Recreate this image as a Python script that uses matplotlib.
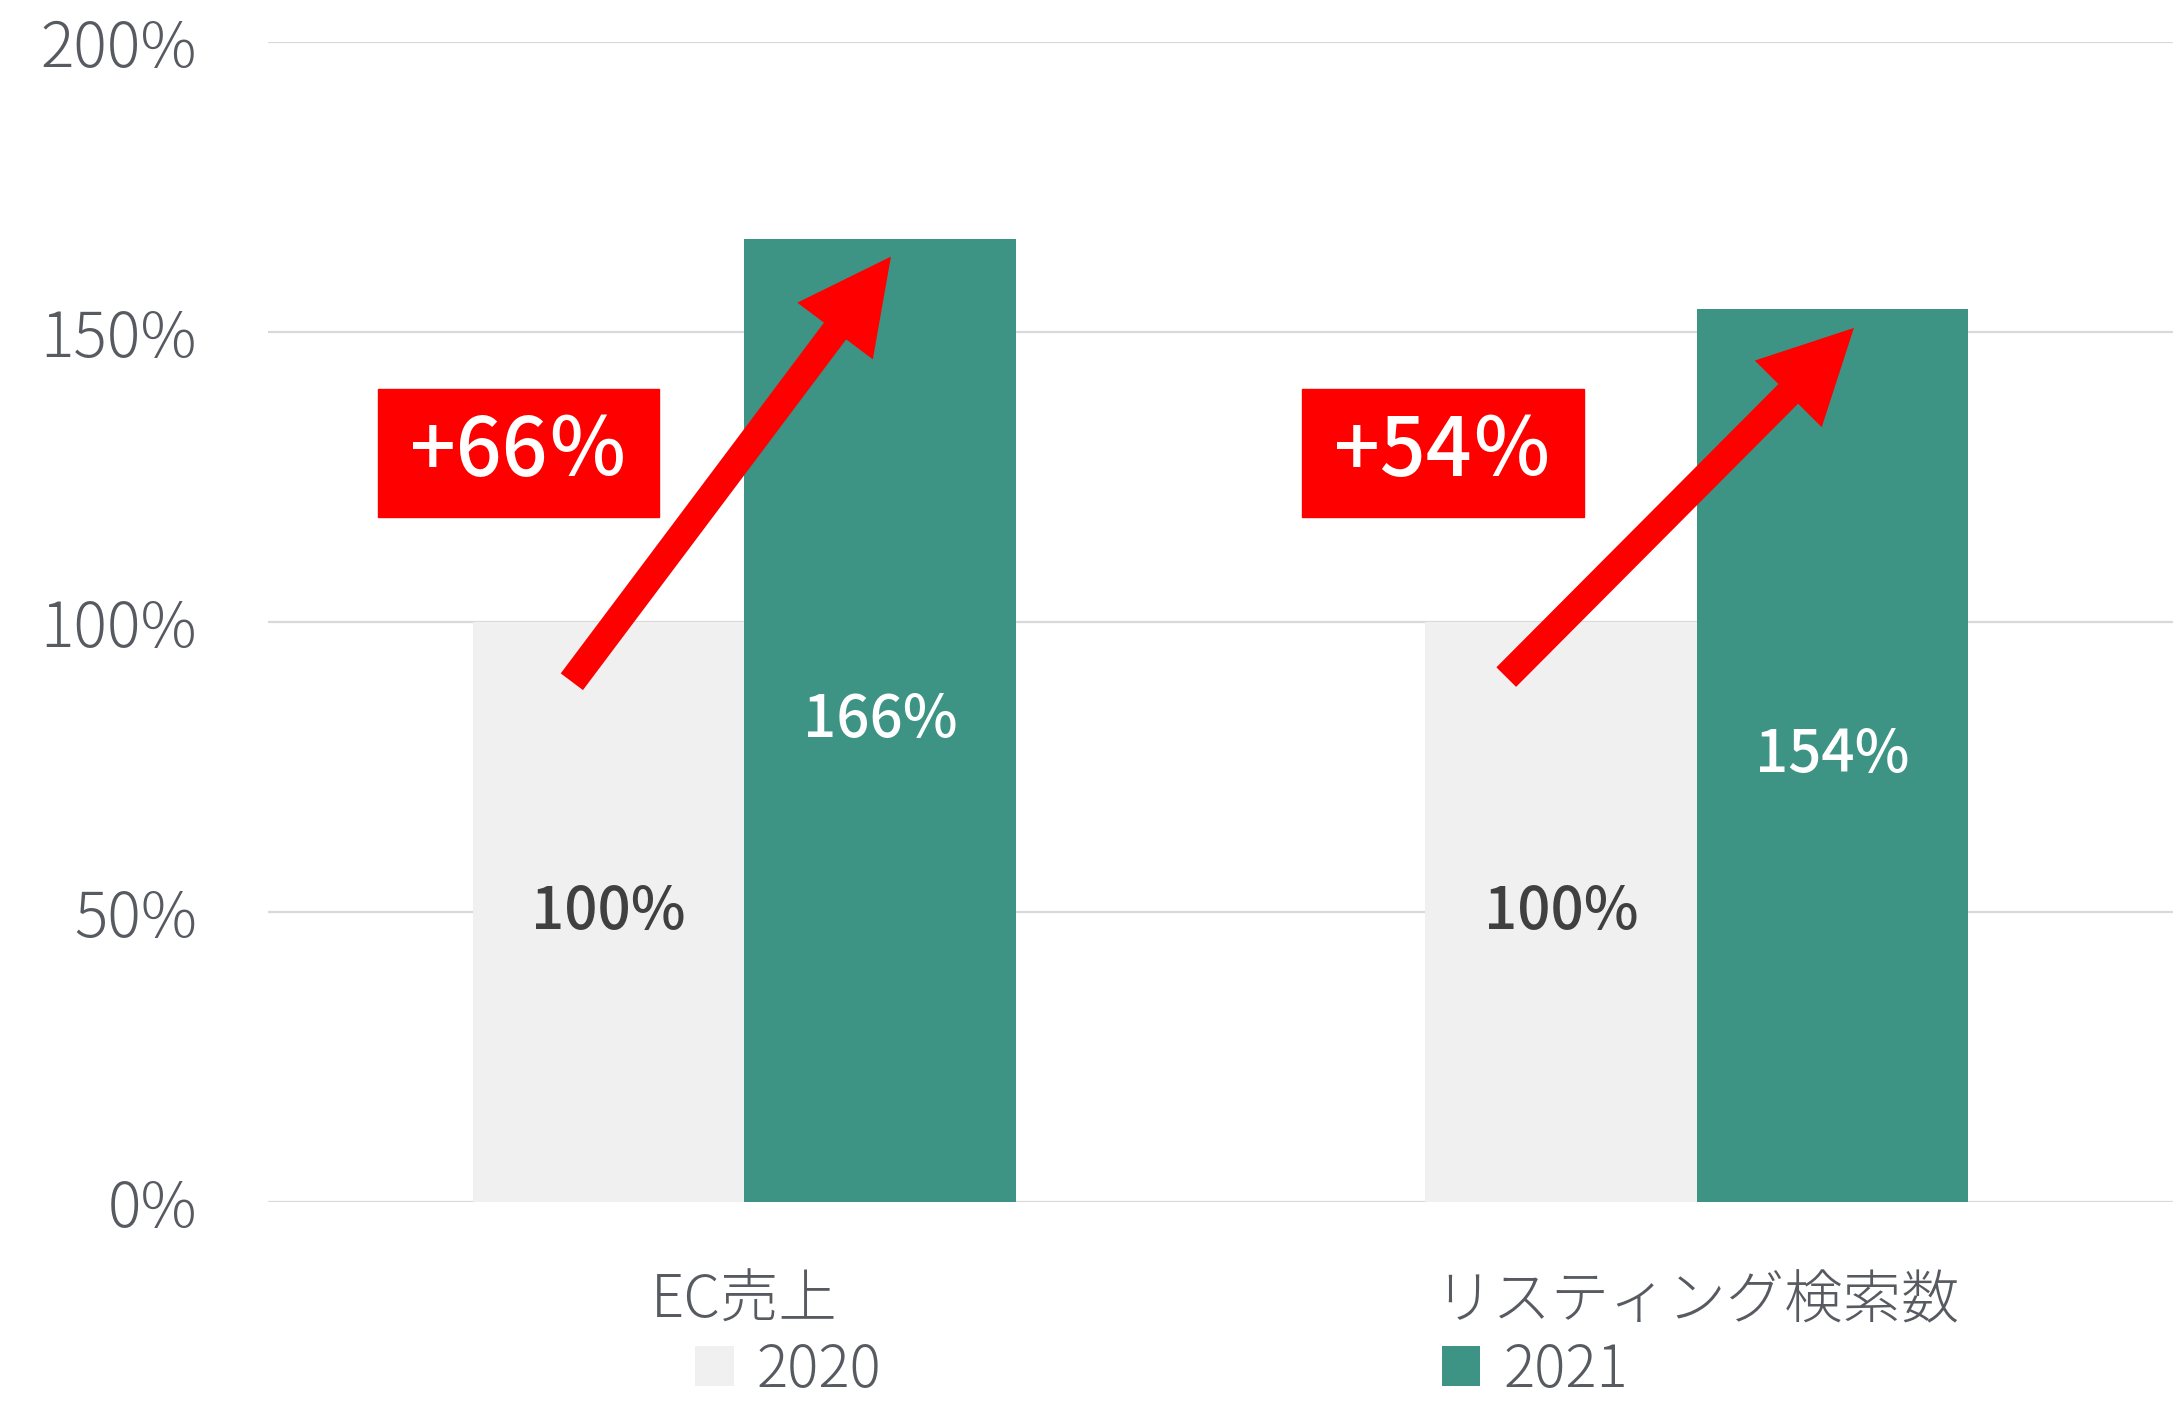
import matplotlib
matplotlib.use("Agg")
import matplotlib.pyplot as plt
from matplotlib.patches import Rectangle
import numpy as np

plt.rcParams["font.family"] = ["Noto Sans CJK JP", "DejaVu Sans"]

# data
categories = ["EC売上", "リスティング検索数"]
series_names = ["2020", "2021"]
values_2020 = [100, 100]
values_2021 = [166, 154]
growth_labels = ["+66％", "+54％"]
y_ticks = [0, 50, 100, 150, 200]

LIGHT = "#F0F0F0"
TEAL = "#3D9485"
RED = "#FF0000"
TEXT_GREY = "#575B61"
DARK = "#404040"
GRID = "#D9D9D9"

# arrow / badge placement relative to each category (x offset, y value)
arrow_tails = [(-0.181, 89.7), (-0.200, 90.5)]
arrow_tips = [(0.154, 163.0), (0.165, 150.7)]
badge_left = [-0.385, -0.414]
BADGE_W, BADGE_Y0, BADGE_H = 0.296, 118.1, 22.1

fig = plt.figure(figsize=(21.81, 14.01), dpi=100)
ax = fig.add_axes([268 / 2181, 1 - 1202 / 1401, (2173 - 268) / 2181, (1202 - 42) / 1401])

x = np.arange(len(categories))
w = 0.285
b1 = ax.bar(x - w / 2, values_2020, w, color=LIGHT, label=series_names[0], zorder=2)
b2 = ax.bar(x + w / 2, values_2021, w, color=TEAL, label=series_names[1], zorder=2)

ax.bar_label(b1, labels=[f"{v}%" for v in values_2020], label_type="center",
             color=DARK, fontsize=42, fontweight="medium")
ax.bar_label(b2, labels=[f"{v}%" for v in values_2021], label_type="center",
             color="white", fontsize=42, fontweight="medium")

for i in range(len(categories)):
    tx, ty = arrow_tails[i]
    hx, hy = arrow_tips[i]
    ax.annotate("", xy=(x[i] + hx, hy), xytext=(x[i] + tx, ty),
                arrowprops=dict(arrowstyle="simple,head_length=3.35,head_width=3.4,tail_width=1.0",
                                mutation_scale=20, fc=RED, ec=RED, lw=0,
                                shrinkA=0, shrinkB=0),
                zorder=4)
    ax.add_patch(Rectangle((x[i] + badge_left[i], BADGE_Y0), BADGE_W, BADGE_H,
                           color=RED, zorder=5))
    ax.text(x[i] + badge_left[i] + BADGE_W / 2, BADGE_Y0 + BADGE_H / 2, growth_labels[i],
            ha="center", va="center", color="white", fontsize=58, fontweight="medium", zorder=6)

ax.set_xlim(-0.5, 1.5)
ax.set_ylim(0, 200)
ax.set_yticks(y_ticks)
ax.set_yticklabels([f"{t}%" for t in y_ticks])
ax.set_xticks(x)
ax.set_xticklabels(categories)
ax.tick_params(axis="y", length=0, pad=51, labelsize=45, labelcolor=TEXT_GREY)
ax.tick_params(axis="x", length=0, pad=50, labelsize=42, labelcolor=TEXT_GREY)
for lab in ax.get_yticklabels() + ax.get_xticklabels():
    lab.set_fontweight("light")

ax.grid(axis="y", color=GRID, linewidth=1.6, zorder=0)
ax.set_axisbelow(True)
for s in ax.spines.values():
    s.set_visible(False)

leg = fig.legend(handles=[b1, b2], loc="upper left",
                 bbox_to_anchor=(695 / 2181, 1 - 1340 / 1401), ncol=2, frameon=False,
                 fontsize=42, handlelength=0.66, handleheight=0.66, handletextpad=0.4,
                 columnspacing=9.6, borderpad=0, borderaxespad=0, labelcolor=TEXT_GREY)
for t in leg.get_texts():
    t.set_fontweight("light")

fig.savefig("out.png", dpi=100, facecolor="white")
